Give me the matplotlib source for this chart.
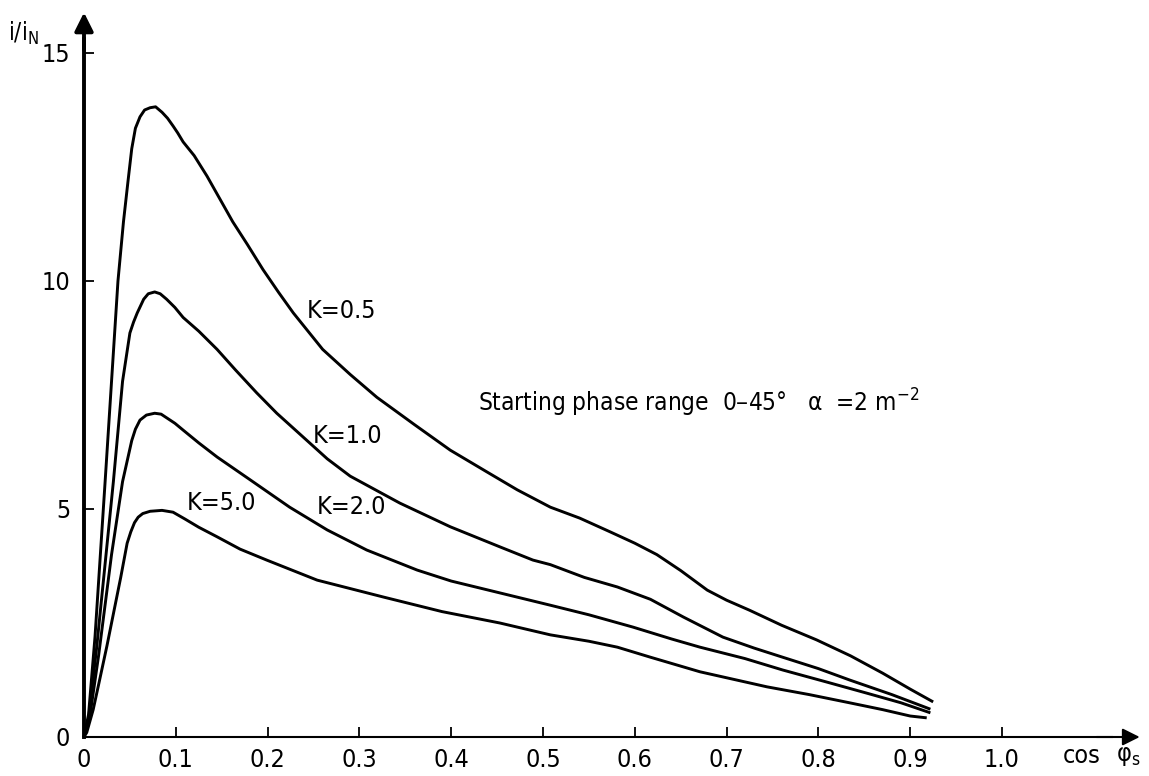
import numpy as np
import matplotlib
matplotlib.use("Agg")
import matplotlib.pyplot as plt

#### curve data (x = cos phi_s, y = i/iN) ####
k05_x = [0, 0.005, 0.012, 0.023, 0.030, 0.037, 0.043, 0.048, 0.052, 0.056, 0.061, 0.066, 0.072,
         0.078, 0.085, 0.091, 0.097, 0.102, 0.108, 0.120, 0.134, 0.148, 0.162, 0.178, 0.195,
         0.212, 0.228, 0.244, 0.260, 0.290, 0.319, 0.360, 0.399, 0.440, 0.472,
         0.508, 0.540, 0.573, 0.600, 0.624, 0.650, 0.679, 0.700, 0.725, 0.760, 0.798, 0.835,
         0.870, 0.900, 0.925]
k05_y = [0, 0.5, 2.2, 5.6, 7.8, 10.0, 11.3, 12.2, 12.9, 13.35, 13.6, 13.75, 13.8,
         13.82, 13.7, 13.57, 13.4, 13.25, 13.05, 12.75, 12.3, 11.8, 11.3, 10.8, 10.25,
         9.75, 9.3, 8.9, 8.5, 7.95, 7.45, 6.85, 6.29, 5.8, 5.42,
         5.04, 4.8, 4.5, 4.25, 4.0, 3.65, 3.22, 3.0, 2.78, 2.45, 2.13, 1.78,
         1.40, 1.05, 0.77]

k10_x = [0, 0.005, 0.014, 0.024, 0.032, 0.042, 0.050, 0.054, 0.058, 0.065, 0.070, 0.077,
         0.083, 0.090, 0.099, 0.108, 0.125, 0.145, 0.165, 0.188, 0.210, 0.243, 0.265,
         0.290, 0.344, 0.399, 0.453, 0.489, 0.508, 0.545, 0.581, 0.617, 0.653, 0.696,
         0.730, 0.761, 0.800, 0.834, 0.880, 0.922]
k10_y = [0, 0.4, 2.0, 4.0, 5.6, 7.8, 8.86, 9.1, 9.3, 9.6, 9.72, 9.76,
         9.72, 9.6, 9.42, 9.2, 8.9, 8.5, 8.05, 7.55, 7.1, 6.5, 6.1,
         5.72, 5.13, 4.61, 4.17, 3.88, 3.78, 3.5, 3.29, 3.02, 2.63, 2.19,
         1.95, 1.75, 1.5, 1.25, 0.93, 0.61]

k20_x = [0, 0.006, 0.016, 0.030, 0.042, 0.052, 0.056, 0.061, 0.068, 0.077, 0.084, 0.090,
         0.099, 0.108, 0.125, 0.145, 0.181, 0.224, 0.265, 0.308, 0.363, 0.400, 0.453,
         0.508, 0.550, 0.598, 0.640, 0.671, 0.720, 0.761, 0.810, 0.853, 0.890, 0.922]
k20_y = [0, 0.4, 1.8, 4.0, 5.6, 6.5, 6.75, 6.95, 7.06, 7.1, 7.08, 7.0,
         6.88, 6.73, 6.45, 6.14, 5.64, 5.04, 4.54, 4.10, 3.66, 3.42, 3.16,
         2.89, 2.68, 2.41, 2.15, 1.97, 1.72, 1.47, 1.2, 0.96, 0.75, 0.53]

k50_x = [0, 0.003, 0.010, 0.017, 0.025, 0.032, 0.040, 0.047, 0.051, 0.055, 0.059, 0.064,
         0.072, 0.085, 0.097, 0.110, 0.125, 0.145, 0.170, 0.199, 0.254, 0.326, 0.390,
         0.453, 0.508, 0.550, 0.581, 0.617, 0.671, 0.744, 0.790, 0.834, 0.870, 0.900, 0.918]
k50_y = [0, 0.1, 0.6, 1.25, 2.0, 2.7, 3.5, 4.25, 4.5, 4.7, 4.82, 4.9,
         4.95, 4.97, 4.93, 4.78, 4.6, 4.39, 4.12, 3.88, 3.44, 3.07, 2.75,
         2.50, 2.24, 2.1, 1.97, 1.75, 1.43, 1.10, 0.93, 0.75, 0.6, 0.46, 0.42]

curve_labels = ["K=0.5", "K=1.0", "K=2.0", "K=5.0"]
label_pos = [(0.243, 9.34), (0.249, 6.6), (0.254, 5.04), (0.112, 5.13)]

x_ticks = [0, 0.1, 0.2, 0.3, 0.4, 0.5, 0.6, 0.7, 0.8, 0.9, 1.0]
x_ticklabels = ["0", "0.1", "0.2", "0.3", "0.4", "0.5", "0.6", "0.7", "0.8", "0.9", "1.0"]
y_ticks = [0, 5, 10, 15]

plt.rcParams['font.family'] = ['DejaVu Sans']
plt.rcParams['font.stretch'] = 'condensed'

fig = plt.figure(figsize=(11.49, 7.76), dpi=100)
ax = fig.add_axes([0, 0, 1, 1])
ax.set_xlim(-84/918, (1149-84)/918)
ax.set_ylim((737-776)/45.6, 737/45.6)

for xs, ys in [(k05_x, k05_y), (k10_x, k10_y), (k20_x, k20_y), (k50_x, k50_y)]:
    ax.plot(xs, ys, color='k', lw=2.1, solid_joinstyle='round', solid_capstyle='butt')

for lab, (lx, ly) in zip(curve_labels, label_pos):
    ax.text(lx, ly, lab, fontsize=18, ha='left', va='center')

ax.text(0.429, 7.32, "Starting phase range  0\u201345\u00b0   \u03b1  =2 m$^{-2}$",
        fontsize=17.5, ha='left', va='center')

# axes drawn as arrows through the origin
for s in ['top', 'right']:
    ax.spines[s].set_visible(False)
ax.spines['left'].set_position(('data', 0))
ax.spines['bottom'].set_position(('data', 0))
ax.spines['left'].set_bounds(0, 15.3)
ax.spines['bottom'].set_bounds(0, 1.12)
ax.spines['left'].set_linewidth(2.8)
ax.spines['bottom'].set_linewidth(1.5)
ax.annotate('', xy=(0, 15.95), xytext=(0, 15.0),
            arrowprops=dict(arrowstyle='-|>', lw=2.8, color='k', mutation_scale=28))
ax.annotate('', xy=(1.153, 0), xytext=(1.10, 0),
            arrowprops=dict(arrowstyle='-|>', lw=1.5, color='k', mutation_scale=26))

ax.set_xticks(x_ticks)
ax.set_xticklabels(x_ticklabels)
ax.set_yticks(y_ticks)
ax.tick_params(axis='both', direction='in', length=7, width=1.3, labelsize=18)
ax.tick_params(axis='x', pad=8)
ax.tick_params(axis='y', pad=10)

ax.text(1.066, -0.42, "cos", fontsize=18, ha='left', va='center')
ax.text(1.124, -0.42, "\u03c6$_\\mathrm{s}$", fontsize=18, ha='left', va='center')
ax.text(-0.083, 15.44, "i/i$_\\mathrm{N}$", fontsize=17, ha='left', va='center')

fig.savefig("out.png", dpi=100)
